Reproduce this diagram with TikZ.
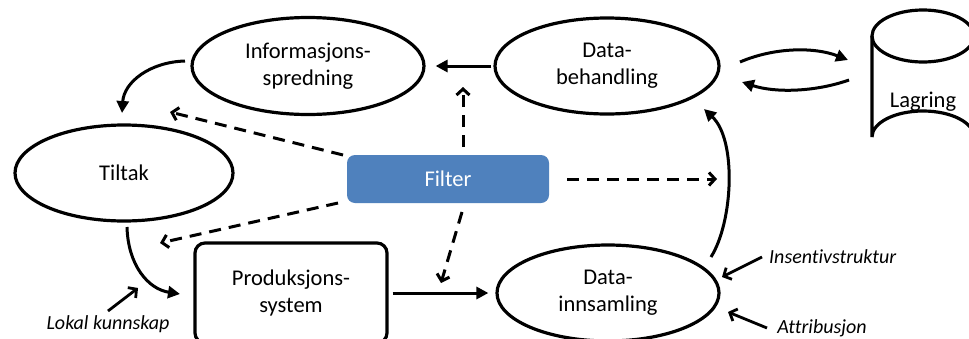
\documentclass[tikz,border=0pt]{standalone}
\usepackage{fontspec}
\setmainfont{Carlito}[Ligatures=NoCommon]
\usetikzlibrary{arrows.meta,shapes.geometric}
\definecolor{filterblue}{HTML}{4F81BD}
\tikzset{
  mainfont/.style={font=\fontsize{22.5}{27}\selectfont},
  ell/.style={ellipse, draw, line width=3.2pt, inner sep=0pt, align=center, mainfont},
  box/.style={rectangle, draw, line width=3.2pt, rounded corners=10pt, inner sep=0pt, align=center, mainfont},
  arr/.style={line width=3pt, -{Triangle[length=12pt,width=12pt]}},
  darr/.style={line width=3pt, dash pattern=on 12pt off 8pt, -{Straight Barb[length=6pt,width=13pt,line width=3pt]}},
  larr/.style={line width=2.8pt, -{Straight Barb[length=6pt,width=13pt,line width=2.8pt]}},
  lbl/.style={font=\fontsize{20}{24}\selectfont\itshape, inner sep=0pt}
}
\begin{document}
\begin{tikzpicture}[x=1pt,y=-1pt]
\useasboundingbox (0,0) rectangle (969,338);
\fill[white] (0,0) rectangle (969,338);
\clip (0,0) rectangle (969,338);

% nodes
\node[ell, minimum width=232pt, minimum height=97pt] (info) at (308,66) {Informasjons-\\spredning};
\node[ell, minimum width=224pt, minimum height=96pt] (beh) at (607,66) {Data-\\behandling};
\node[ell, minimum width=218pt, minimum height=96pt] (tilt) at (124,173) {Tiltak};
\node[ell, minimum width=222pt, minimum height=96pt] (inns) at (608,293) {Data-\\innsamling};
\node[box, minimum width=192pt, minimum height=100pt] (prod) at (291,293) {Produksjons-\\system};
\node[rectangle, fill=filterblue, rounded corners=8pt, minimum width=202pt, minimum height=48pt, inner sep=0pt, text=white, mainfont] (filt) at (448,179) {Filter};

% Lagring cylinder
\draw[line width=3.2pt] (923,36) ellipse [x radius=51, y radius=26];
\draw[line width=3.2pt] (872,36) -- (872,137) arc[start angle=180, end angle=360, x radius=51, y radius=26] -- (974,36);
\node[mainfont] (lag) at (923,102) {Lagring};

% labels
\node[lbl] (lok) at (108,324) {Lokal kunnskap};
\node[lbl, anchor=west] (ins) at (769,257) {Insentivstruktur};
\node[lbl] (att) at (822,328) {Attribusjon};

% coordinates
\coordinate (i1) at (185,61);
\coordinate (t1) at (122,113);
\coordinate (t2) at (127,227);
\coordinate (p1) at (180,294);
\coordinate (n1) at (711,257);
\coordinate (b1) at (704,109);
\coordinate (b2) at (740,62);
\coordinate (g1) at (848,60);
\coordinate (g2) at (849,80);
\coordinate (b3) at (742,82);
\coordinate (f1) at (463,147);
\coordinate (f1e) at (463,87);
\coordinate (f2) at (343,155);
\coordinate (f2e) at (170,112);
\coordinate (f3) at (462,212);
\coordinate (f3e) at (441,283);
\coordinate (f4) at (338,203);
\coordinate (f4e) at (160,243);
\coordinate (f5) at (567,179);
\coordinate (f5e) at (717,179);
\coordinate (l1) at (108,311);
\coordinate (l1e) at (138,288);
\coordinate (s1) at (762,257);
\coordinate (s1e) at (722,277);
\coordinate (a1) at (767,328);
\coordinate (a1e) at (728,312);

% solid connectors
\draw[arr, shorten <=2pt, shorten >=10pt] (beh.west) -- (info.east);
\draw[arr] (i1) .. controls (150,62) and (124,82) .. (t1);
\draw[arr] (t2) .. controls (128,265) and (148,289) .. (p1);
\draw[arr, shorten <=4pt, shorten >=7pt] (prod.east) -- (inns.west);
\draw[arr] (n1) .. controls (733,222) and (737,140) .. (b1);
\draw[arr] (b2) .. controls (775,47) and (815,47) .. (g1);
\draw[arr] (g2) .. controls (815,92) and (775,93) .. (b3);

% dashed connectors from Filter
\draw[darr] (f1) -- (f1e);
\draw[darr] (f2) -- (f2e);
\draw[darr] (f3) -- (f3e);
\draw[darr] (f4) -- (f4e);
\draw[darr] (f5) -- (f5e);

% label arrows
\draw[larr] (l1) -- (l1e);
\draw[larr] (s1) -- (s1e);
\draw[larr] (a1) -- (a1e);
\end{tikzpicture}
\end{document}
